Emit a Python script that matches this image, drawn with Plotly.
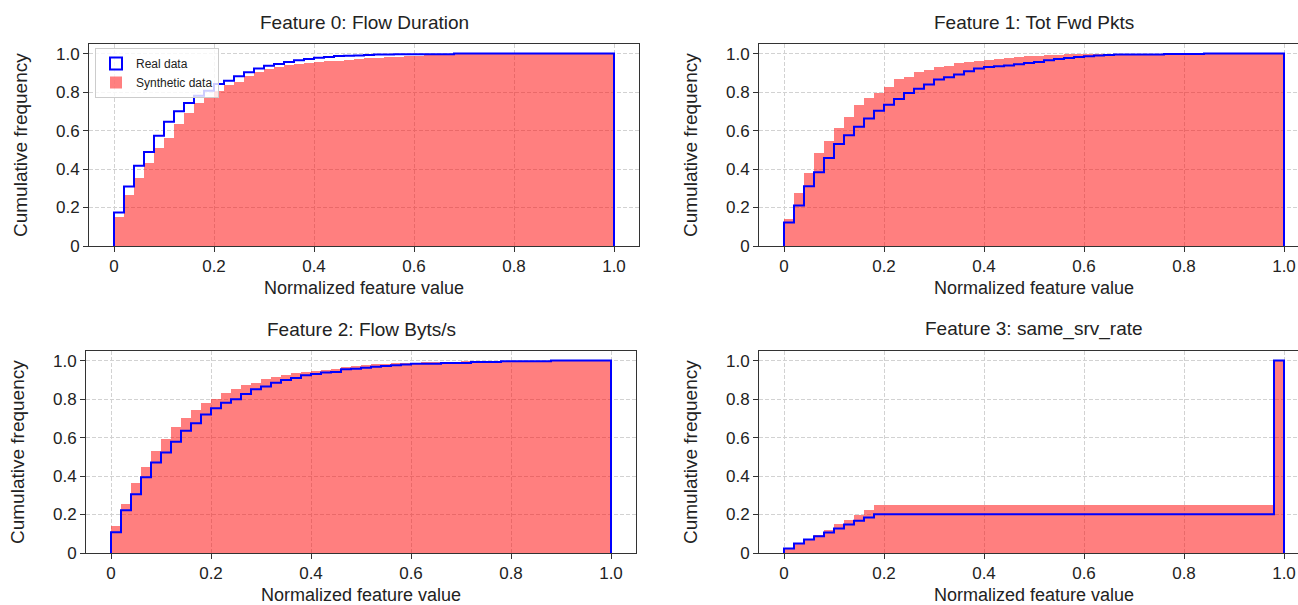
import numpy as np
import plotly.graph_objects as go

# ---------------- data (cumulative frequency per bin, 50 bins of width 0.02) ----------------
feature_titles = [
    "Feature 0: Flow Duration",
    "Feature 1: Tot Fwd Pkts",
    "Feature 2: Flow Byts/s",
    "Feature 3: same_srv_rate",
]

real_f0 = [0.174, 0.309, 0.417, 0.488, 0.573, 0.646, 0.700, 0.743, 0.781, 0.807,
           0.842, 0.859, 0.882, 0.903, 0.922, 0.937, 0.946, 0.957, 0.965, 0.972,
           0.979, 0.983, 0.988, 0.989, 0.990, 0.993, 0.995, 0.995, 0.997, 0.997,
           0.997, 0.997, 0.997, 0.997, 1.000, 1.000, 1.000, 1.000, 1.000, 1.000,
           1.000, 1.000, 1.000, 1.000, 1.000, 1.000, 1.000, 1.000, 1.000, 1.000]
synth_f0 = [0.153, 0.267, 0.354, 0.434, 0.510, 0.563, 0.632, 0.691, 0.743, 0.773,
            0.806, 0.837, 0.854, 0.885, 0.906, 0.920, 0.930, 0.939, 0.946, 0.951,
            0.957, 0.960, 0.964, 0.969, 0.973, 0.976, 0.979, 0.982, 0.985, 0.987,
            0.989, 0.991, 0.993, 0.995, 0.996, 0.997, 0.998, 0.999, 1.000, 1.000,
            1.000, 1.000, 1.000, 1.000, 1.000, 1.000, 1.000, 1.000, 1.000, 1.000]

real_f1 = [0.122, 0.210, 0.311, 0.384, 0.457, 0.530, 0.576, 0.620, 0.663, 0.703,
           0.734, 0.764, 0.795, 0.818, 0.840, 0.865, 0.877, 0.892, 0.908, 0.922,
           0.931, 0.934, 0.938, 0.945, 0.951, 0.957, 0.965, 0.972, 0.977, 0.983,
           0.986, 0.990, 0.993, 0.995, 0.995, 0.995, 0.995, 0.995, 0.998, 0.998,
           0.998, 0.998, 1.000, 1.000, 1.000, 1.000, 1.000, 1.000, 1.000, 1.000]
synth_f1 = [0.139, 0.278, 0.382, 0.483, 0.545, 0.613, 0.670, 0.733, 0.767, 0.795,
            0.828, 0.868, 0.880, 0.903, 0.917, 0.929, 0.938, 0.950, 0.957, 0.964,
            0.967, 0.972, 0.979, 0.984, 0.988, 0.990, 0.992, 0.994, 0.996, 0.997,
            0.998, 0.999, 1.000, 1.000, 1.000, 1.000, 1.000, 1.000, 1.000, 1.000,
            1.000, 1.000, 1.000, 1.000, 1.000, 1.000, 1.000, 1.000, 1.000, 1.000]

real_f2 = [0.108, 0.222, 0.306, 0.394, 0.470, 0.523, 0.578, 0.635, 0.674, 0.720,
           0.752, 0.781, 0.799, 0.826, 0.851, 0.865, 0.885, 0.899, 0.910, 0.924,
           0.931, 0.938, 0.941, 0.955, 0.958, 0.963, 0.968, 0.972, 0.976, 0.980,
           0.984, 0.984, 0.984, 0.988, 0.988, 0.988, 0.993, 0.993, 0.993, 0.997,
           0.997, 0.997, 0.997, 0.997, 1.000, 1.000, 1.000, 1.000, 1.000, 1.000]
synth_f2 = [0.139, 0.257, 0.365, 0.448, 0.528, 0.594, 0.653, 0.701, 0.741, 0.778,
            0.802, 0.830, 0.851, 0.873, 0.885, 0.903, 0.913, 0.924, 0.934, 0.941,
            0.948, 0.951, 0.955, 0.965, 0.972, 0.976, 0.980, 0.983, 0.986, 0.988,
            0.990, 0.992, 0.993, 0.994, 0.995, 0.996, 0.996, 0.997, 0.997, 0.998,
            0.998, 0.998, 0.999, 0.999, 0.999, 1.000, 1.000, 1.000, 1.000, 1.000]

real_f3 = [0.024, 0.050, 0.070, 0.087, 0.106, 0.127, 0.148, 0.167, 0.185, 0.202,
           0.202, 0.202, 0.202, 0.202, 0.202, 0.202, 0.202, 0.202, 0.202, 0.202,
           0.202, 0.202, 0.202, 0.202, 0.202, 0.202, 0.202, 0.202, 0.202, 0.202,
           0.202, 0.202, 0.202, 0.202, 0.202, 0.202, 0.202, 0.202, 0.202, 0.202,
           0.202, 0.202, 0.202, 0.202, 0.202, 0.202, 0.202, 0.202, 0.202, 1.000]
synth_f3 = [0.022, 0.047, 0.070, 0.094, 0.122, 0.153, 0.174, 0.200, 0.223, 0.249,
            0.249, 0.249, 0.249, 0.249, 0.249, 0.249, 0.249, 0.249, 0.249, 0.249,
            0.249, 0.249, 0.249, 0.249, 0.249, 0.249, 0.249, 0.249, 0.249, 0.249,
            0.249, 0.249, 0.249, 0.249, 0.249, 0.249, 0.249, 0.249, 0.249, 0.249,
            0.249, 0.249, 0.249, 0.249, 0.249, 0.249, 0.249, 0.249, 0.249, 1.000]

real_series = [real_f0, real_f1, real_f2, real_f3]
synth_series = [synth_f0, synth_f1, synth_f2, synth_f3]

tick_vals = [0, 0.2, 0.4, 0.6, 0.8, 1.0]
tick_text = ["0", "0.2", "0.4", "0.6", "0.8", "1.0"]

# ---------------- layout geometry (pixels) ----------------
W, H = 1298, 605
FONT = "Liberation Sans, Arial, Helvetica, sans-serif"
panels = [
    dict(x0=89, x1=639, top=44, bot=246),
    dict(x0=759, x1=1309, top=44, bot=246),
    dict(x0=86, x1=636, top=351, bot=553),
    dict(x0=759, x1=1309, top=351, bot=553),
]
PX_PER_UNIT = 500.0

n_bins = len(real_f0)
edges = np.linspace(0, 1, n_bins + 1)
centers = (edges[:-1] + edges[1:]) / 2
width = edges[1] - edges[0]

fig = go.Figure()
annotations = []

for i in range(4):
    ax = "" if i == 0 else str(i + 1)
    xref, yref = "x" + ax, "y" + ax
    p = panels[i]
    real = real_series[i]
    synth = synth_series[i]

    if i == 0:
        fig.add_trace(go.Bar(
            x=[None], y=[None], xaxis=xref, yaxis=yref,
            marker=dict(color="rgba(255,255,255,0)", line=dict(color="#0000ff", width=2)),
            name="Real data", showlegend=True,
        ))
    # synthetic: filled bars
    fig.add_trace(go.Bar(
        x=centers, y=synth, width=width, xaxis=xref, yaxis=yref,
        marker=dict(color="rgba(255,0,0,0.5)", line=dict(width=0)),
        name="Synthetic data", showlegend=(i == 0),
        hoverinfo="skip",
    ))
    # real: step outline
    sx = [edges[0]] + list(edges[:-1]) + [edges[-1], edges[-1]]
    sy = [0] + list(real) + [real[-1], 0]
    fig.add_trace(go.Scatter(
        x=sx, y=sy, xaxis=xref, yaxis=yref, mode="lines",
        line=dict(color="#0000ff", width=2, shape="hv"),
        showlegend=False, hoverinfo="skip",
    ))

    x1c = min(p["x1"], W)
    xr0 = -0.05
    xr1 = xr0 + (x1c - p["x0"]) / PX_PER_UNIT
    axis_common = dict(
        showline=True, linecolor="#333333", linewidth=1,
        ticks="outside", ticklen=5, tickwidth=1, tickcolor="#333333",
        tickfont=dict(family=FONT, size=17, color="#222222"),
        showgrid=True, gridcolor="#d2d2d2", gridwidth=1, griddash="4px,2px",
        zeroline=False, tickvals=tick_vals, ticktext=tick_text,
        automargin=False,
    )
    fig.layout["xaxis" + ax] = dict(
        axis_common, domain=[p["x0"] / W, x1c / W], range=[xr0, xr1],
        anchor=yref, mirror=True,
    )
    fig.layout["yaxis" + ax] = dict(
        axis_common, domain=[(H - p["bot"]) / H, (H - p["top"]) / H], range=[0, 1.05],
        anchor=xref, mirror=(p["x1"] <= W),
    )

    cx = (p["x0"] + p["x1"]) / 2
    annotations.append(dict(
        text=feature_titles[i], x=cx / W, y=1 - (p["top"] - 22) / H,
        xref="paper", yref="paper", showarrow=False, xanchor="center", yanchor="middle",
        font=dict(family=FONT, size=19, color="#222222"),
    ))
    annotations.append(dict(
        text="Normalized feature value", x=cx / W, y=1 - (p["bot"] + 42) / H,
        xref="paper", yref="paper", showarrow=False, xanchor="center", yanchor="middle",
        font=dict(family=FONT, size=18, color="#222222"),
    ))
    annotations.append(dict(
        text="Cumulative frequency", x=(p["x0"] - 69) / W, y=1 - ((p["top"] + p["bot"]) / 2) / H,
        xref="paper", yref="paper", showarrow=False, xanchor="center", yanchor="middle",
        textangle=-90, font=dict(family=FONT, size=19, color="#222222"),
    ))

fig.update_layout(
    width=W, height=H,
    margin=dict(l=0, r=0, t=0, b=0, autoexpand=False),
    paper_bgcolor="white", plot_bgcolor="white",
    barmode="overlay", bargap=0,
    annotations=annotations,
    showlegend=True,
    legend=dict(
        x=95 / W, y=1 - 48 / H, xanchor="left", yanchor="top",
        bgcolor="rgba(255,255,255,0.8)", bordercolor="#cccccc", borderwidth=1,
        font=dict(family=FONT, size=12, color="#222222"),
        itemwidth=30, tracegroupgap=0, traceorder="normal",
    ),
    font=dict(family=FONT),
)

fig.write_html(
    "out.html",
    config={"displayModeBar": False},
    post_script="document.body.style.margin='0';document.body.style.overflow='hidden';",
)
